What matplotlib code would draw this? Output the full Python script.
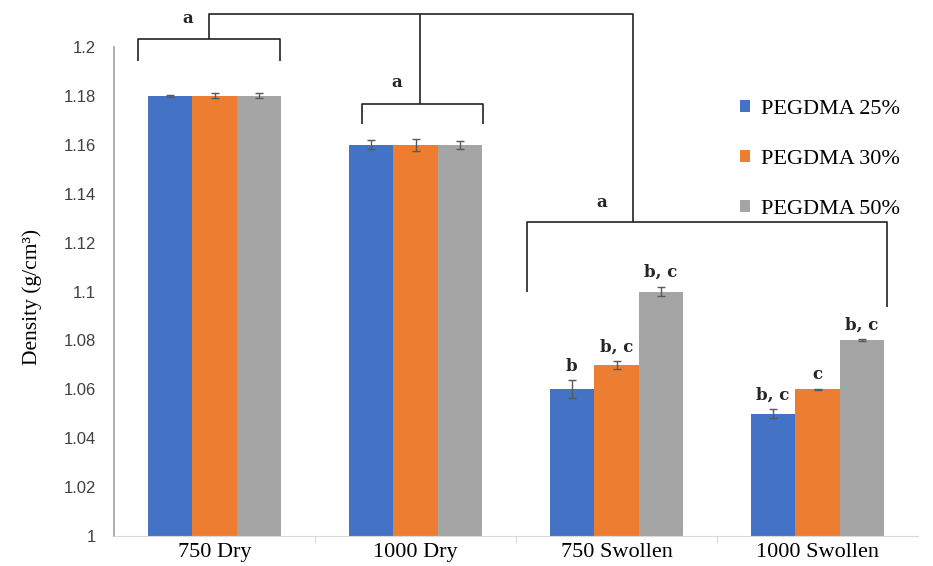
import numpy as np
import matplotlib
matplotlib.use("Agg")
import matplotlib.pyplot as plt

# density of each hydrogel, grouped by PEG molecular weight and state
categories = ["750 Dry", "1000 Dry", "750 Swollen", "1000 Swollen"]
series_names = ["PEGDMA 25%", "PEGDMA 30%", "PEGDMA 50%"]
pegdma_25 = [1.18, 1.16, 1.06, 1.05]
pegdma_30 = [1.18, 1.16, 1.07, 1.06]
pegdma_50 = [1.18, 1.16, 1.10, 1.08]
err_25 = [0.0005, 0.0018, 0.0037, 0.0018]
err_30 = [0.0010, 0.0024, 0.0016, 0.0003]
err_50 = [0.0010, 0.0016, 0.0020, 0.0004]
# significance letters over each bar
letters_25 = ["", "", "b", "b, c"]
letters_30 = ["", "", "b, c", "c"]
letters_50 = ["", "", "b, c", "b, c"]

colors = ["#4472C4", "#ED7D31", "#A5A5A5"]
values = [pegdma_25, pegdma_30, pegdma_50]
errors = [err_25, err_30, err_50]
letters = [letters_25, letters_30, letters_50]

fig = plt.figure(figsize=(9.33, 5.66), dpi=100)
ax = fig.add_axes([114 / 933, 1 - 536 / 566, 804 / 933, 489 / 566])

x = np.arange(len(categories))
width = 0.222
for i in range(3):
    pos = x + (i - 1) * width
    ax.bar(pos, np.array(values[i]) - 1, width, bottom=1, color=colors[i],
           label=series_names[i], zorder=2)
    ax.errorbar(pos, values[i], yerr=errors[i], fmt="none", ecolor="#595959",
                elinewidth=1, capsize=3, capthick=1, zorder=3)
    for p, v, e, t in zip(pos, values[i], errors[i], letters[i]):
        if t:
            ax.annotate(t, (p, v + e), xytext=(0, 4), textcoords="offset points",
                        ha="center", va="bottom", fontsize=12, fontweight="bold",
                        family="DejaVu Serif", color="#262626")

ax.set_xlim(-0.5, 3.5)
ax.set_ylim(1, 1.2)
ax.set_yticks(np.arange(1, 1.2001, 0.02))
ax.set_yticklabels(["1", "1.02", "1.04", "1.06", "1.08", "1.1", "1.12",
                    "1.14", "1.16", "1.18", "1.2"])
ax.tick_params(axis="y", length=0, pad=13, labelsize=12, labelcolor="#404040")
for lab in ax.get_yticklabels():
    lab.set_family("Liberation Sans")

# category names centred under groups, tick marks between groups
ax.set_xticks([0.5, 1.5, 2.5])
ax.set_xticklabels([])
ax.tick_params(axis="x", which="major", length=5, color="#D9D9D9")
ax.set_xticks(x, minor=True)
ax.set_xticklabels(categories, minor=True, family="Liberation Serif", fontsize=16)
ax.tick_params(axis="x", which="minor", length=0, pad=5)

for s in ["top", "right"]:
    ax.spines[s].set_visible(False)
ax.spines["left"].set_color("#A0A0A0")
ax.spines["left"].set_linewidth(1.2)
ax.spines["bottom"].set_color("#D9D9D9")

ax.set_ylabel("Density (g/cm³)", family="Liberation Serif", fontsize=15.5)
ax.yaxis.set_label_coords(-72 / 804, 239 / 489)

# significance brackets above the groups
lk = dict(color="#222222", lw=1.2, clip_on=False, solid_capstyle="butt")
ax.plot([-0.381, -0.381, 0.326, 0.326], [1.1943, 1.2033, 1.2033, 1.1943], **lk)
ax.plot([0.734, 0.734, 1.336, 1.336], [1.1685, 1.1767, 1.1767, 1.1685], **lk)
ax.plot([1.555, 1.555, 3.346, 3.346], [1.0998, 1.1284, 1.1284, 1.0937], **lk)
ax.plot([-0.027, -0.027, 2.082, 2.082], [1.2033, 1.2135, 1.2135, 1.1284], **lk)
ax.plot([1.022, 1.022], [1.1767, 1.2135], **lk)
tk = dict(ha="center", va="center", fontsize=12, fontweight="bold",
          family="DejaVu Serif", color="#262626", clip_on=False)
ax.text(-0.132, 1.2118, "a", **tk)
ax.text(0.908, 1.1855, "a", **tk)
ax.text(1.928, 1.1365, "a", **tk)

ax.legend(loc="upper left", bbox_to_anchor=(740 / 933, 1 - 100 / 566),
          bbox_transform=fig.transFigure,
          frameon=False, prop={"family": "Liberation Serif", "size": 16},
          handlelength=0.45, handleheight=0.45, handletextpad=0.5,
          labelspacing=1.4, borderpad=0, borderaxespad=0)

fig.savefig("out.png", dpi=100)
